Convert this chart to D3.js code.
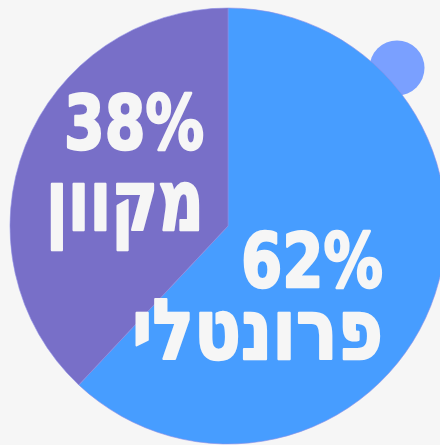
<!DOCTYPE html>
<html><head><meta charset="utf-8">
<script src="https://cdn.jsdelivr.net/npm/d3@7"></script>
<style>
html,body{margin:0;padding:0;background:#f6f6f6;}
svg{display:block;}
text{font-family:"DejaVu Sans",sans-serif;font-weight:bold;fill:#f6f6f6;stroke:#f6f6f6;stroke-width:2.5;stroke-linejoin:round;}
</style></head>
<body>
<svg id="chart" width="440" height="445"></svg>
<script>
const categories = ["פרונטלי", "מקוון"];
const values = [62, 38];
const percentLabels = ["62%", "38%"];
const colors = ["#479dff", "#786fc8"];

const W = 440, H = 445;
const cx = 228, cy = 226, R = 218;
const svg = d3.select("#chart");
svg.append("rect").attr("width", W).attr("height", H).attr("fill", "#f6f6f6");

// decorative bubble behind the pie
svg.append("circle").attr("cx", 397).attr("cy", 68).attr("r", 27.5).attr("fill", "#7aa0ff");

const pie = d3.pie().sort(null).value(d => d)(values);
const arc = d3.arc().innerRadius(0).outerRadius(R);
const g = svg.append("g").attr("transform", `translate(${cx},${cy})`);
g.selectAll("path").data(pie).join("path")
  .attr("d", arc)
  .attr("fill", (d, i) => colors[i])
  .attr("stroke", "#8f8fe6").attr("stroke-width", 0.6);

// label layout
const layout = [
  {x: 383, py: 287, ny: 359, pw: 142, nw: 251, ps: 74, ns: 84},
  {x: 204, py: 149, ny: 230, pw: 140, nw: 158, ps: 74, ns: 84}
];
layout.forEach((L, i) => {
  svg.append("text").attr("x", L.x).attr("y", L.py).attr("text-anchor", "end")
    .attr("font-size", L.ps).attr("textLength", L.pw).attr("lengthAdjust", "spacingAndGlyphs")
    .text(percentLabels[i]);
  svg.append("text").attr("x", L.x).attr("y", L.ny).attr("text-anchor", "end")
    .attr("font-size", L.ns).attr("textLength", L.nw).attr("lengthAdjust", "spacingAndGlyphs")
    .text(categories[i]);
});
</script>
</body></html>
